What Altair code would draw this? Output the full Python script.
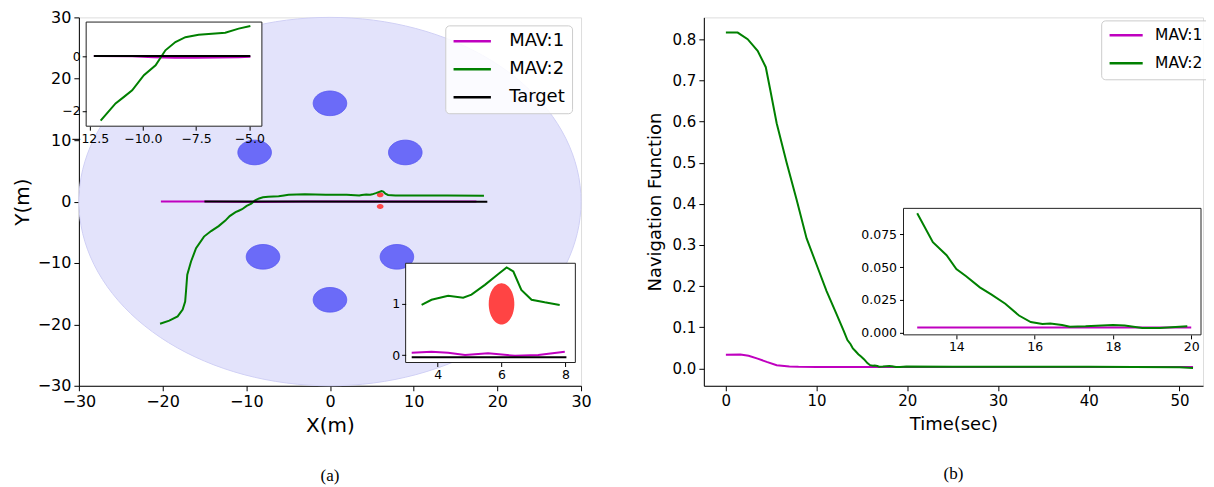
import altair as alt
import numpy as np
import pandas as pd

FONT = "DejaVu Sans"

# ---------------- Panel (a): trajectories ----------------
series_a = ["MAV:1", "MAV:2", "Target"]
colors_a = ["#bf00bf", "#008000", "#000000"]

mav1_x = [-20.2, -18.0, -15.0, -12.0, -9.0, -6.0, -3.0, 0.0, 3.0, 6.0, 9.0, 12.0, 15.0, 17.5]
mav1_y = [0.0, 0.0, 0.0, -0.02, -0.05, -0.04, 0.0, 0.03, 0.0, 0.02, 0.0, 0.01, 0.02, 0.03]
mav2_x = [-20.3, -19.2, -18.2, -17.6, -17.3, -17.2, -17.05, -16.6, -16.0, -15.05,
          -14.2, -13.3, -12.5, -11.98, -11.28, -10.9, -10.5, -9.95, -9.4, -8.94,
          -8.47, -8.0, -7.38, -6.13, -5.5, -4.95, -3.0, -0.5, 2.0, 3.5,
          3.81, 4.33, 4.8, 5.06, 5.48, 5.9, 6.16, 6.37, 6.62, 6.94,
          7.35, 7.82, 10.0, 14.0, 18.4]
mav2_y = [-19.9, -19.4, -18.7, -17.6, -16.3, -14.6, -11.9, -9.76, -7.6, -5.7,
          -4.8, -4.0, -3.1, -2.36, -1.73, -1.5, -1.25, -0.70, -0.34, 0.21,
          0.51, 0.69, 0.78, 0.85, 1.0, 1.1, 1.2, 1.1, 1.1, 0.98,
          1.08, 1.16, 1.12, 1.18, 1.37, 1.58, 1.71, 1.63, 1.27, 1.08,
          1.03, 0.98, 0.97, 1.0, 0.95]
target_x = [-15.0, 18.8]
target_y = [0.0, -0.03]

arena_cx, arena_cy, arena_r = [0.0], [0.0], [30.0]
obst_cx = [0.0, -9.0, 9.0, -8.0, 8.0, 0.0]
obst_cy = [16.0, 8.0, 8.0, -9.0, -9.0, -16.0]
obst_r = [2.0, 2.0, 2.0, 2.0, 2.0, 2.0]
red_cx = [6.0, 6.0]
red_cy = [1.1, -0.8]
red_r = [0.4, 0.4]

# inset 1 (top-left zoom)
ins1_xdom = [-12.66, -4.41]
ins1_ydom = [-2.56, 1.24]
ins1_green_x = [-11.98, -11.28, -10.9, -10.5, -9.95, -9.4, -8.94, -8.47, -8.0, -7.38, -6.13, -5.5, -4.95]
ins1_green_y = [-2.36, -1.73, -1.5, -1.25, -0.70, -0.34, 0.21, 0.51, 0.69, 0.78, 0.85, 1.0, 1.1]
ins1_mav1_x = [-12.3, -10.5, -9.5, -8.5, -7.5, -6.5, -5.5, -4.95]
ins1_mav1_y = [0.0, -0.01, -0.04, -0.06, -0.06, -0.05, -0.04, -0.03]
ins1_target_x = [-12.3, -4.95]
ins1_target_y = [0.0, 0.0]

# inset 2 (bottom-right zoom)
ins2_xdom = [3.0, 8.31]
ins2_ydom = [-0.14, 1.79]
ins2_green_x = [3.5, 3.81, 4.33, 4.8, 5.06, 5.48, 5.9, 6.16, 6.37, 6.62, 6.94, 7.35, 7.82]
ins2_green_y = [0.98, 1.08, 1.16, 1.12, 1.18, 1.37, 1.58, 1.71, 1.63, 1.27, 1.08, 1.03, 0.98]
ins2_mav1_x = [3.19, 3.81, 4.33, 4.86, 5.58, 6.42, 7.15, 7.98]
ins2_mav1_y = [0.05, 0.07, 0.05, 0.006, 0.04, -0.01, 0.006, 0.07]
ins2_target_x = [3.19, 8.03]
ins2_target_y = [-0.04, -0.04]
ins2_red_cx, ins2_red_cy, ins2_red_r = [6.0], [1.0], [0.4]

# ---------------- Panel (b): navigation function ----------------
series_b = ["MAV:1", "MAV:2"]
colors_b = ["#bf00bf", "#008000"]
nf1_t = [0, 1.6, 2.5, 3.5, 4.5, 5.6, 7.0, 8.0, 10, 13, 15, 20, 30, 40, 51.5]
nf1_v = [0.0336, 0.034, 0.031, 0.024, 0.016, 0.008, 0.0048, 0.004, 0.0038, 0.0038, 0.0038, 0.0038, 0.0038, 0.0038, 0.0038]
nf2_t = [0, 1.3, 2.4, 3.5, 4.4, 4.9, 5.6, 6.7, 7.8, 8.9, 10.0, 11.1, 12.2, 13.0, 13.4, 13.75,
         14.0, 14.25, 14.6, 14.9, 15.25, 15.6, 15.9, 16.2, 16.4, 16.7, 16.9, 17.3, 18.0, 18.3,
         18.75, 19.2, 19.9, 25, 30, 35, 40, 45, 50, 51.5]
nf2_v = [0.816, 0.816, 0.800, 0.772, 0.732, 0.676, 0.596, 0.500, 0.410, 0.316, 0.252, 0.188,
         0.132, 0.091, 0.069, 0.059, 0.0485, 0.043, 0.0345, 0.029, 0.022, 0.013, 0.008, 0.0065,
         0.007, 0.0058, 0.0045, 0.0048, 0.0058, 0.0053, 0.0035, 0.0035, 0.0048, 0.004, 0.0045,
         0.004, 0.004, 0.0035, 0.003, 0.001]
insb_xdom = [12.65, 20.25]
insb_ydom = [-0.00175, 0.0948]

# ---------------- helpers ----------------
def traj(xs, ys, name):
    return pd.DataFrame({"series": name, "x": xs, "y": ys, "i": list(range(len(xs)))})


def discs(cxs, cys, rs):
    th = np.linspace(0, np.pi, 73)
    frames = []
    for k, (cx, cy, r) in enumerate(zip(cxs, cys, rs)):
        frames.append(pd.DataFrame({"id": k, "x": cx + r * np.cos(th),
                                    "y": cy + r * np.sin(th), "y2": cy - r * np.sin(th)}))
    return pd.concat(frames, ignore_index=True)


def ax(**kw):
    base = dict(grid=False, labelFlush=False, labelOverlap=False, labelFont=FONT,
                titleFont=FONT, titleFontWeight="normal", domainColor="black",
                tickColor="black", labelColor="black", titleColor="black")
    base.update(kw)
    return alt.Axis(**base)


W_A, W_B, H = 503, 500, 369

# ---------- panel (a) main ----------
xa = alt.X("x:Q", scale=alt.Scale(domain=[-30, 30], nice=False, zero=False),
           axis=ax(orient="bottom", values=[-30, -20, -10, 0, 10, 20, 30], title="X(m)",
                   labelFontSize=16, titleFontSize=20, tickSize=5, labelPadding=3, titlePadding=6))
ya = alt.Y("y:Q", scale=alt.Scale(domain=[-30, 30], nice=False, zero=False),
           axis=ax(orient="left", values=[-30, -20, -10, 0, 10, 20, 30], title="Y(m)",
                   labelFontSize=16, titleFontSize=20, tickSize=5, labelPadding=3, titlePadding=5))

color_a = alt.Color("series:N", scale=alt.Scale(domain=series_a, range=colors_a),
                    legend=alt.Legend(title=None, orient="none", legendX=367, legendY=8,
                                      symbolType="stroke", symbolStrokeWidth=2.5, symbolSize=1400,
                                      clipHeight=18, rowPadding=10, labelFontSize=18, labelFont=FONT,
                                      labelColor="black", labelOffset=17, padding=7,
                                      strokeColor="#cccccc", fillColor="rgba(255,255,255,0.85)",
                                      cornerRadius=4))

arena = alt.Chart(discs(arena_cx, arena_cy, arena_r)).mark_area(
    fill="#e3e3fb", stroke="#d0d0f5", strokeWidth=1, orient="vertical"
).encode(x=xa, y=ya, y2="y2:Q", detail="id:N")
obst = alt.Chart(discs(obst_cx, obst_cy, obst_r)).mark_area(
    fill="#6b6bf8", stroke="#5858f0", strokeWidth=1, orient="vertical"
).encode(x=xa, y=ya, y2="y2:Q", detail="id:N")
reds = alt.Chart(discs(red_cx, red_cy, red_r)).mark_area(
    fill="#ff4848", orient="vertical"
).encode(x=xa, y=ya, y2="y2:Q", detail="id:N")
lines_a = pd.concat([traj(mav1_x, mav1_y, "MAV:1"), traj(mav2_x, mav2_y, "MAV:2"),
                     traj(target_x, target_y, "Target")], ignore_index=True)
trajs = alt.Chart(lines_a).mark_line(strokeWidth=2).encode(
    x=xa, y=ya, color=color_a, order="i:Q")
main_a = alt.layer(arena, obst, reds, trajs)


def inset(xdom, ydom, xr, yr, xvals, yvals, xfmt, yfmt, layers_fn):
    xo = -(H - yr[0])
    yo = -xr[0]
    xi = alt.X("x:Q", scale=alt.Scale(domain=xdom, range=xr, nice=False, zero=False),
               axis=ax(orient="bottom", offset=xo, values=xvals, format=xfmt, title=None,
                       labelFontSize=12.5, tickSize=4, labelPadding=2, zindex=3, domain=False))
    yi = alt.Y("y:Q", scale=alt.Scale(domain=ydom, range=yr, nice=False, zero=False),
               axis=ax(orient="left", offset=yo, values=yvals, format=yfmt, title=None,
                       labelFontSize=12.5, tickSize=4, labelPadding=2, zindex=3, domain=False))
    frame = alt.Chart(pd.DataFrame({"x": [xdom[0]], "x2": [xdom[1]], "y": [ydom[0]], "y2": [ydom[1]]})
                      ).mark_rect(fill="white", stroke="#222222", strokeWidth=1).encode(
        x=xi, x2="x2:Q", y=yi, y2="y2:Q")
    return alt.layer(frame, *layers_fn(xi, yi))


def ins1_layers(xi, yi):
    d = pd.concat([traj(ins1_mav1_x, ins1_mav1_y, "MAV:1"), traj(ins1_green_x, ins1_green_y, "MAV:2"),
                   traj(ins1_target_x, ins1_target_y, "Target")], ignore_index=True)
    return [alt.Chart(d).mark_line(strokeWidth=2).encode(x=xi, y=yi, color=color_a, order="i:Q")]


def ins2_layers(xi, yi):
    d = pd.concat([traj(ins2_mav1_x, ins2_mav1_y, "MAV:1"), traj(ins2_green_x, ins2_green_y, "MAV:2"),
                   traj(ins2_target_x, ins2_target_y, "Target")], ignore_index=True)
    red = alt.Chart(discs(ins2_red_cx, ins2_red_cy, ins2_red_r)).mark_area(
        fill="#ff4444", orient="vertical").encode(x=xi, y=yi, y2="y2:Q", detail="id:N")
    return [red, alt.Chart(d).mark_line(strokeWidth=2).encode(x=xi, y=yi, color=color_a, order="i:Q")]


inset1 = inset(ins1_xdom, ins1_ydom, [7.3, 183.3], [109, 4.7],
               [-12.5, -10.0, -7.5, -5.0], [-2, 0], ".1f", "d", ins1_layers)
inset2 = inset(ins2_xdom, ins2_ydom, [327.3, 497.3], [345.7, 246.3],
               [4, 6, 8], [0, 1], "d", "d", ins2_layers)

panel_a = alt.layer(main_a, inset1, inset2).resolve_scale(
    x="independent", y="independent").properties(
    width=W_A, height=H,
    title=alt.TitleParams("(a)", orient="bottom", anchor="middle", font="Liberation Serif",
                          fontSize=17, fontWeight="normal", color="black", offset=32))

# ---------- panel (b) ----------
xb = alt.X("t:Q", scale=alt.Scale(domain=[-2.43, 52.6], nice=False, zero=False),
           axis=ax(orient="bottom", values=[0, 10, 20, 30, 40, 50], title="Time(sec)",
                   labelFontSize=15, titleFontSize=18, tickSize=5, labelPadding=3, titlePadding=7))
yb = alt.Y("v:Q", scale=alt.Scale(domain=[-0.042, 0.853], nice=False, zero=False),
           axis=ax(orient="left", values=[0.0, 0.1, 0.2, 0.3, 0.4, 0.5, 0.6, 0.7, 0.8], format=".1f",
                   title="Navigation Function", labelFontSize=15, titleFontSize=18, tickSize=5,
                   labelPadding=3, titlePadding=8))
color_b = alt.Color("series:N", scale=alt.Scale(domain=series_b, range=colors_b),
                    legend=alt.Legend(title=None, orient="none", legendX=398, legendY=3,
                                      symbolType="stroke", symbolStrokeWidth=2.5, symbolSize=1100,
                                      clipHeight=16, rowPadding=11, labelFontSize=15.5, labelFont=FONT,
                                      labelColor="black", labelOffset=11, padding=7,
                                      strokeColor="#cccccc", fillColor="rgba(255,255,255,0.85)",
                                      cornerRadius=4))
nf = pd.concat([pd.DataFrame({"series": "MAV:1", "t": nf1_t, "v": nf1_v, "i": range(len(nf1_t))}),
                pd.DataFrame({"series": "MAV:2", "t": nf2_t, "v": nf2_v, "i": range(len(nf2_t))})],
               ignore_index=True)
main_b = alt.Chart(nf).mark_line(strokeWidth=2).encode(x=xb, y=yb, color=color_b, order="i:Q")

xr_b, yr_b = [200, 498], [318, 191.3]
xib = alt.X("t:Q", scale=alt.Scale(domain=insb_xdom, range=xr_b, nice=False, zero=False),
            axis=ax(orient="bottom", offset=-(H - yr_b[0]), values=[14, 16, 18, 20], title=None,
                    labelFontSize=12.5, tickSize=4, labelPadding=2, zindex=3, domain=False))
yib = alt.Y("v:Q", scale=alt.Scale(domain=insb_ydom, range=yr_b, nice=False, zero=False),
            axis=ax(orient="left", offset=-xr_b[0], values=[0.0, 0.025, 0.05, 0.075], format=".3f",
                    title=None, labelFontSize=12.5, tickSize=4, labelPadding=3, zindex=3, domain=False))
frame_b = alt.Chart(pd.DataFrame({"t": [insb_xdom[0]], "t2": [insb_xdom[1]],
                                  "v": [insb_ydom[0]], "v2": [insb_ydom[1]]})).mark_rect(
    fill="white", stroke="#222222", strokeWidth=1).encode(x=xib, x2="t2:Q", y=yib, y2="v2:Q")
lines_ib = alt.Chart(nf).transform_filter(
    (alt.datum.t >= insb_xdom[0]) & (alt.datum.t <= 20.0)
).mark_line(strokeWidth=2).encode(x=xib, y=yib, color=color_b, order="i:Q")
inset_b = alt.layer(frame_b, lines_ib)

panel_b = alt.layer(main_b, inset_b).resolve_scale(
    x="independent", y="independent").properties(
    width=W_B, height=H,
    title=alt.TitleParams("(b)", orient="bottom", anchor="middle", font="Liberation Serif",
                          fontSize=17, fontWeight="normal", color="black", offset=32))

chart = alt.hconcat(panel_a, panel_b, spacing=53).resolve_scale(color="independent").properties(
    padding={"left": 3, "top": 0, "right": -5, "bottom": 0}
).configure_view(stroke="black", strokeWidth=1).configure(background="white")

chart.save("out.html", embed_options={"renderer": "svg", "actions": False})
